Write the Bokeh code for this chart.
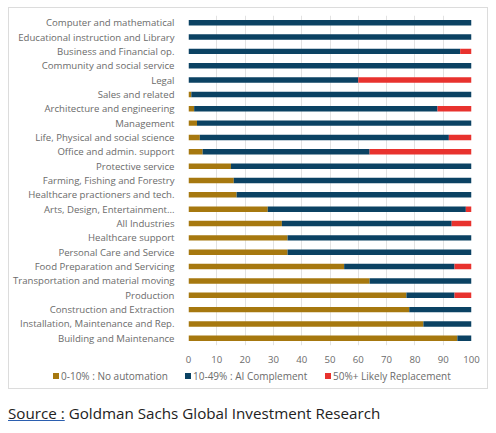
from bokeh.plotting import figure
from bokeh.models import ColumnDataSource, Div, FixedTicker
from bokeh.layouts import column
from bokeh.embed import file_html
from bokeh.resources import INLINE

categories = [
    "Computer and mathematical",
    "Educational instruction and Library",
    "Business and Financial op.",
    "Community and social service",
    "Legal",
    "Sales and related",
    "Architecture and engineering",
    "Management",
    "Life, Physical and social science",
    "Office and admin. support",
    "Protective service",
    "Farming, Fishing and Forestry",
    "Healthcare practioners and tech.",
    "Arts, Design, Entertainment...",
    "All Industries",
    "Healthcare support",
    "Personal Care and Service",
    "Food Preparation and Servicing",
    "Transportation and material moving",
    "Production",
    "Construction and Extraction",
    "Installation, Maintenance and Rep.",
    "Building and Maintenance",
]
no_automation = [0, 0, 0, 0, 0, 1, 2, 3, 4, 5, 15, 16, 17, 28, 33, 35, 35, 55, 64, 77, 78, 83, 95]
ai_complement = [100, 100, 96, 100, 60, 99, 86, 97, 88, 59, 85, 84, 83, 70, 60, 65, 65, 39, 36, 17, 22, 17, 5]
replacement = [0, 0, 4, 0, 40, 0, 12, 0, 8, 36, 0, 0, 0, 2, 7, 0, 0, 6, 0, 6, 0, 0, 0]
series_labels = ["0-10% : No automation", "10-49% : AI Complement", "50%+ Likely Replacement"]
x_ticks = [0, 10, 20, 30, 40, 50, 60, 70, 80, 90, 100]

GOLD = "#A6780F"
BLUE = "#0B4263"
RED = "#E8322E"
GRAY = "#6b6b6b"
COLORS = [GOLD, BLUE, RED]

src = ColumnDataSource(dict(cat=categories, a=no_automation, b=ai_complement, c=replacement))

p = figure(
    y_range=list(reversed(categories)), x_range=(0, 100),
    width=478, height=357, output_backend="svg", toolbar_location=None,
    min_border_left=179, min_border_right=16, min_border_top=7, min_border_bottom=18,
)
p.outline_line_color = None

p.hbar_stack(["a", "b", "c"], y="cat", height=0.38, color=COLORS,
             line_color=None, source=src)

p.ygrid.grid_line_color = None
p.xgrid.grid_line_color = "#e2e2e2"
p.xaxis.ticker = FixedTicker(ticks=x_ticks)
for ax in (p.xaxis, p.yaxis):
    ax.axis_line_color = None
    ax.major_tick_line_color = None
    ax.minor_tick_line_color = None
    ax.major_label_text_font = "Open Sans"
    ax.major_label_text_font_size = "9.6px"
    ax.major_label_text_color = GRAY
p.yaxis.major_label_standoff = 8
p.xaxis.major_label_standoff = 4

# legend strip (HTML)
glyph_left = [44, 176, 316]
items = "".join(
    f'<span style="position:absolute;left:{x}px;top:5px;white-space:nowrap;line-height:12px;">'
    f'<span style="display:inline-block;width:6px;height:6px;background:{c};margin-right:2px;vertical-align:1px;"></span>{lbl}</span>'
    for x, c, lbl in zip(glyph_left, COLORS, series_labels)
)
legend_div = Div(
    text=f'<div style="position:relative;width:478px;height:23px;font-family:\'Open Sans\';font-size:10px;color:{GRAY};">{items}</div>',
    width=478, height=23, margin=(0, 0, 0, 0),
)

box = column(p, legend_div, spacing=0, styles={"border": "1px solid #dcdcdc"})

div = Div(text='<span style="text-decoration: underline; text-decoration-color: #2b5fb0;">Source :</span> Goldman Sachs Global Investment Research',
          styles={"font-family": "'Open Sans'", "font-size": "15.2px", "color": "#222"},
          width=480, margin=(14, 0, 0, 0))

layout = column(box, div, spacing=0, margin=(7, 0, 0, 8))
open("out.html", "w").write(file_html(layout, INLINE))
